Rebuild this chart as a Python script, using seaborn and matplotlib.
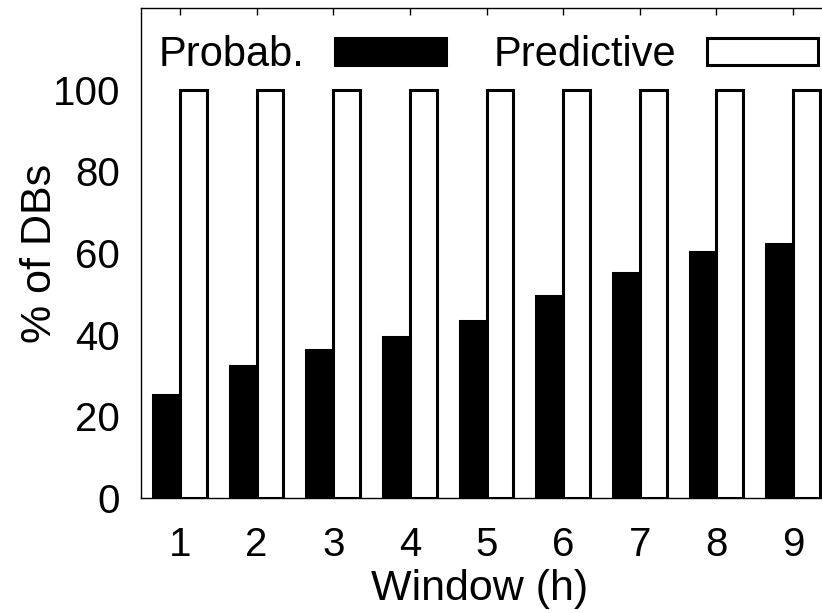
import matplotlib
matplotlib.use("Agg")
import matplotlib.pyplot as plt
from matplotlib.patches import Patch
import seaborn as sns
import pandas as pd

windows = ["1", "2", "3", "4", "5", "6", "7", "8", "9"]
probab = [25.3, 32.4, 36.2, 39.5, 43.4, 49.4, 55.1, 60.3, 62.2]
predictive = [100, 100, 100, 100, 100, 100, 100, 100, 100]
series_names = ["Probab.", "Predictive"]
yticks = [0, 20, 40, 60, 80, 100]

sns.set_theme(style="white")
plt.rcParams['font.family'] = ['Liberation Sans', 'DejaVu Sans']
plt.rcParams['text.color'] = 'black'
plt.rcParams['axes.labelcolor'] = 'black'
plt.rcParams['xtick.color'] = 'black'
plt.rcParams['ytick.color'] = 'black'

df = pd.DataFrame({
    "Window": windows + windows,
    "Value": probab + predictive,
    "Method": [series_names[0]] * len(windows) + [series_names[1]] * len(windows),
})

fig = plt.figure(figsize=(8.22, 6.13), dpi=100)
ax = fig.add_axes([141 / 822, 115 / 613, 691 / 822, 490 / 613])
sns.barplot(data=df, x="Window", y="Value", hue="Method",
            palette={series_names[0]: "black", series_names[1]: "white"},
            width=0.7, saturation=1, edgecolor="black", linewidth=2.2,
            ax=ax, legend=False)

ax.set_xlim(-0.51, 8.51)
ax.set_ylim(0, 120)
ax.set_yticks(yticks)
ax.tick_params(axis='both', direction='in', length=5, width=1, color='black',
               labelcolor='black', top=True, right=True, labelsize=29)
ax.tick_params(axis='x', pad=20)
ax.tick_params(axis='y', pad=15)
for s in ax.spines.values():
    s.set_visible(True)
    s.set_color('black')
    s.set_linewidth(1.0)

ax.set_xlabel("Window (h)", fontsize=31, color='black')
ax.set_ylabel("% of DBs", fontsize=31, color='black')
ax.xaxis.set_label_coords((480 - 141) / 691, -0.145)
ax.yaxis.set_label_coords((60 - 141) / 691, 0.5)

handles = [Patch(facecolor="black", edgecolor="black", linewidth=2.2),
           Patch(facecolor="white", edgecolor="black", linewidth=2.2)]
ax.legend(handles, series_names, ncol=2, markerfirst=False, frameon=False,
          loc='upper left', bbox_to_anchor=(0.025, 0.945), borderaxespad=0,
          borderpad=0, handlelength=2.65, handleheight=0.62, handletextpad=0.75,
          columnspacing=1.15, fontsize=30)

fig.savefig("out.png", dpi=100)
